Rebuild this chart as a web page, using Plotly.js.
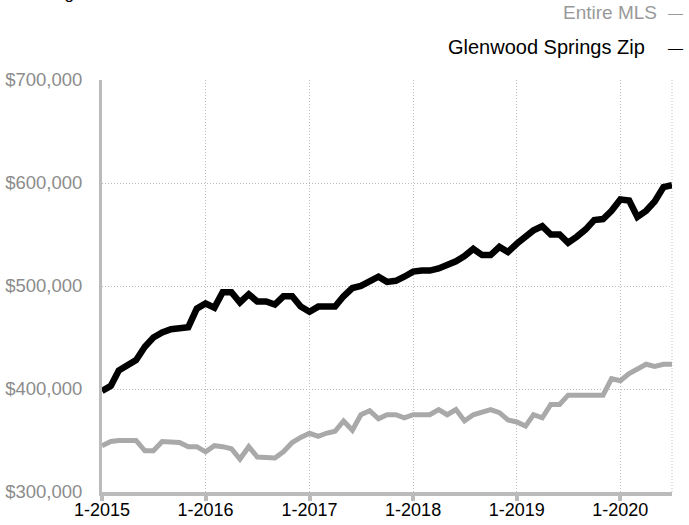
<!DOCTYPE html>
<html>
<head>
<meta charset="utf-8">
<script src="https://cdn.plot.ly/plotly-3.0.1.min.js"></script>
<style>html,body{margin:0;padding:0;background:#fff;}#chart{width:689px;height:525px;}</style>
</head>
<body>
<div id="chart"></div>
<script>
// Monthly values, Jan 2015 .. Jul 2020 (in dollars)
var glenwoodSprings = [
  398000, 403000, 418000, 424000, 428000, 441000, 450000, 455000, 458000, 459000, 460000, 478000,
  483000, 479000, 494000, 494000, 484000, 492000, 485000, 485000, 482000, 490000, 490000, 480000,
  475000, 480000, 480000, 480000, 490000, 498000, 500000, 505000, 509000, 504000, 505000, 509000,
  514000, 515000, 515000, 517000, 520000, 524000, 529000, 536000, 530000, 530000, 538000, 533000,
  541000, 548000, 554000, 558000, 550000, 550000, 542000, 548000, 555000, 564000, 565000, 573000,
  584000, 583000, 567000, 573000, 582000, 596000, 598000
];
var entireMLS = [
  345000, 349000, 350000, 350000, 350000, 340000, 340000, 349000, 349000, 348000, 344000, 344000,
  339000, 345000, 344000, 342000, 332000, 344000, 334000, 333000, 333000, 339000, 348000, 353000,
  357000, 354000, 357000, 359000, 369000, 360000, 375000, 379000, 371000, 375000, 375000, 372000,
  375000, 375000, 375000, 380000, 375000, 380000, 369000, 375000, 378000, 380000, 377000, 370000,
  368000, 364000, 375000, 372000, 385000, 385000, 394000, 394000, 394000, 393000, 394000, 410000,
  408000, 415000, 419000, 424000, 422000, 424000, 424000
];
var xTickVals = ['2015-01-01', '2016-01-01', '2017-01-01', '2018-01-01', '2019-01-01', '2020-01-01'];
var xTickText = ['1-2015', '1-2016', '1-2017', '1-2018', '1-2019', '1-2020'];
var yTickVals = [300000, 400000, 500000, 600000, 700000];
var yTickText = ['$300,000', '$400,000', '$500,000', '$600,000', '$700,000'];
var seriesNames = ['Entire MLS', 'Glenwood Springs Zip'];
var titleText = 'Rolling 12-Month Median Sales Price';

// month dates
var months = [];
for (var i = 0; i < glenwoodSprings.length; i++) {
  var y = 2015 + Math.floor(i / 12);
  var m = (i % 12) + 1;
  months.push(y + '-' + (m < 10 ? '0' + m : m) + '-01');
}

var FONT = 'Liberation Sans, Arial, Helvetica, sans-serif';
var GRIDDASH = '1px,2px';

var traces = [
  {x: months, y: entireMLS, type: 'scatter', mode: 'lines', name: seriesNames[0],
   line: {color: '#a9a9a9', width: 5}, cliponaxis: false, hoverinfo: 'x+y'},
  {x: months, y: glenwoodSprings, type: 'scatter', mode: 'lines', name: seriesNames[1],
   line: {color: '#000000', width: 6.5}, cliponaxis: false, hoverinfo: 'x+y'}
];

var layout = {
  width: 689, height: 525,
  margin: {l: 102, r: 17, t: 80, b: 33, pad: 0},
  paper_bgcolor: '#ffffff', plot_bgcolor: '#ffffff',
  showlegend: false,
  font: {family: FONT, size: 18, color: '#000'},
  xaxis: {
    type: 'date', range: ['2015-01-01', '2020-07-01'],
    tickvals: xTickVals, ticktext: xTickText,
    tickfont: {family: FONT, size: 18, color: '#000'},
    showgrid: true, gridcolor: '#bdbdbd', gridwidth: 1, griddash: GRIDDASH,
    showline: true, linecolor: '#bbbbbb', linewidth: 4,
    ticks: 'outside', ticklen: 5, tickwidth: 4, tickcolor: '#bbbbbb',
    ticklabelstandoff: -7,
    zeroline: false, fixedrange: true
  },
  yaxis: {
    range: [300000, 700000],
    tickvals: yTickVals, ticktext: yTickText,
    tickfont: {family: FONT, size: 18.5, color: '#8c8c8c'},
    showgrid: true, gridcolor: '#bdbdbd', gridwidth: 1, griddash: GRIDDASH,
    showline: true, linecolor: '#bbbbbb', linewidth: 3,
    ticks: '', ticklabelstandoff: 13,
    zeroline: false, fixedrange: true
  },
  shapes: [
    {type: 'line', xref: 'paper', yref: 'paper', x0: 1, x1: 1, y0: 0, y1: 1,
     line: {color: '#bdbdbd', width: 1, dash: GRIDDASH}, layer: 'below'}
  ],
  annotations: [
    {text: titleText, xref: 'paper', yref: 'paper', x: -0.144, y: 1.183,
     xanchor: 'left', yanchor: 'bottom', showarrow: false,
     font: {family: FONT, size: 17, color: '#000'}},
    {text: seriesNames[0], xref: 'paper', yref: 'paper', x: (659 - 102) / 570, y: 1.165,
     xanchor: 'right', yanchor: 'middle', showarrow: false,
     font: {family: FONT, size: 19, color: '#999999'}},
    {text: '\u2014', xref: 'paper', yref: 'paper', x: (685 - 102) / 570, y: 1.165,
     xanchor: 'right', yanchor: 'middle', showarrow: false,
     font: {family: FONT, size: 15, color: '#999999'}},
    {text: seriesNames[1], xref: 'paper', yref: 'paper', x: (647 - 102) / 570, y: 1.080,
     xanchor: 'right', yanchor: 'middle', showarrow: false,
     font: {family: FONT, size: 20, color: '#000000'}},
    {text: '\u2014', xref: 'paper', yref: 'paper', x: (685 - 102) / 570, y: 1.080,
     xanchor: 'right', yanchor: 'middle', showarrow: false,
     font: {family: FONT, size: 15, color: '#000000'}}
  ]
};

Plotly.newPlot('chart', traces, layout, {displayModeBar: false, staticPlot: true});
</script>
</body>
</html>
